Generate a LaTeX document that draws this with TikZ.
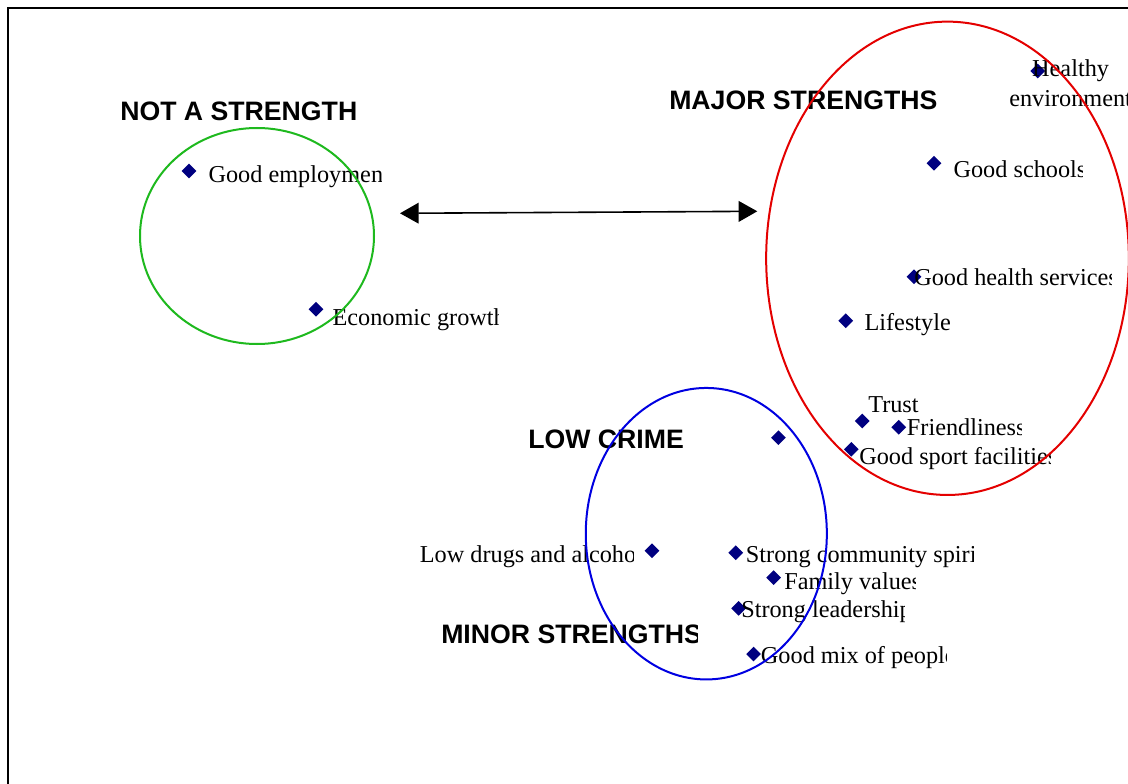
\documentclass[tikz,border=0pt]{standalone}
\usepackage{fontspec}
\setmainfont{Liberation Serif}
\newfontfamily\headfont{Liberation Sans}
\usetikzlibrary{shapes.geometric,arrows.meta}
\definecolor{mnavy}{RGB}{0,0,128}
\definecolor{egreen}{RGB}{30,185,30}
\definecolor{ered}{RGB}{228,0,0}
\definecolor{eblue}{RGB}{0,0,225}
\tikzset{
  marker/.style={diamond,fill=mnavy,inner sep=0pt,minimum width=11.2pt,minimum height=11.2pt},
  lab/.style={inner sep=0pt,anchor=base west,font=\fontsize{18.2}{22}\selectfont},
  head/.style={inner sep=0pt,anchor=base west,font=\headfont\fontsize{20}{24}\selectfont\bfseries},
  ring/.style={line width=1.5pt},
  frame/.style={line width=1.5pt,black},
  link/.style={line width=1.2pt,{Triangle[length=14pt,width=15.5pt]}-{Triangle[length=14pt,width=15.5pt]}}
}
\newcommand\cliplab[6]{%
  \begin{scope}\clip (#2-8,#3-32) rectangle (#4,#3+12);
  \node[#6] (#1) at (#2,#3) {#5};\end{scope}}
\begin{document}
\begin{tikzpicture}[x=0.75pt,y=-0.75pt]
\useasboundingbox (0,0) rectangle (1128,784);
\clip (0,0) rectangle (1128,784);
\fill[white] (0,0) rectangle (1128,784);
% frame
\draw[frame] (8,800) -- (8,8) -- (1140,8);

% markers
\node[marker] (m1) at (189,171) {};
\node[marker] (m2) at (316,309.3) {};
\node[marker] (m3) at (1037.7,71) {};
\node[marker] (m4) at (934,163.3) {};
\node[marker] (m5) at (914,276.7) {};
\node[marker] (m6) at (845.7,320.7) {};
\node[marker] (m7) at (862.3,421) {};
\node[marker] (m8) at (898.7,427.3) {};
\node[marker] (m9) at (851.3,449.3) {};
\node[marker] (m10) at (778.4,437.7) {};
\node[marker] (m11) at (652,550.7) {};
\node[marker] (m12) at (735.7,552.7) {};
\node[marker] (m13) at (773.6,577.7) {};
\node[marker] (m14) at (738.6,608.3) {};
\node[marker] (m15) at (753.6,654) {};

% labels
\cliplab{t1}{208.3}{182.5}{381}{Good employment}{lab}
\cliplab{t2}{332.3}{325.5}{498}{Economic growth}{lab}
\node[lab,anchor=base] (t3a) at (1070.6,76.5) {Healthy};
\node[lab,anchor=base] (t3b) at (1070.6,106.5) {environment};
\cliplab{t4}{953.3}{177.5}{1082.3}{Good schools}{lab}
\cliplab{t5}{914}{285.5}{1111}{Good health services}{lab}
\node[lab] (t6) at (864.3,330.5) {Lifestyle};
\node[lab] (t7) at (868,412) {Trust};
\cliplab{t8}{906.7}{435.5}{1021}{Friendliness}{lab}
\cliplab{t9}{859}{464.5}{1050}{Good sport facilities}{lab}
\cliplab{t11}{419.6}{562}{633}{Low drugs and alcohol}{lab}
\cliplab{t12}{745.7}{562}{973}{Strong community spirit}{lab}
\cliplab{t13}{784}{589}{915}{Family values}{lab}
\cliplab{t14}{741}{617}{904}{Strong leadership}{lab}
\cliplab{t15}{760.7}{663.5}{946}{Good mix of people}{lab}

% headings
\node[head] (h1) at (120,120.7) {NOT A STRENGTH};
\node[head] (h2) at (669,110) {MAJOR STRENGTHS};
\node[head] (h3) at (528,448.3) {LOW CRIME};
\cliplab{h4}{441}{643}{697}{MINOR STRENGTHS}{head}

% ellipses
\draw[ring,egreen] (257,236) ellipse [x radius=87.75pt,y radius=81pt];
\draw[ring,ered] (947.5,258.3) ellipse [x radius=136pt,y radius=177.5pt];
\draw[ring,eblue] (706.3,533.7) ellipse [x radius=90.4pt,y radius=109.3pt];

% arrow
\coordinate (aL) at (400,213.3);
\coordinate (aR) at (757.3,211.3);
\draw[link] (aL) -- (aR);
\end{tikzpicture}
\end{document}
